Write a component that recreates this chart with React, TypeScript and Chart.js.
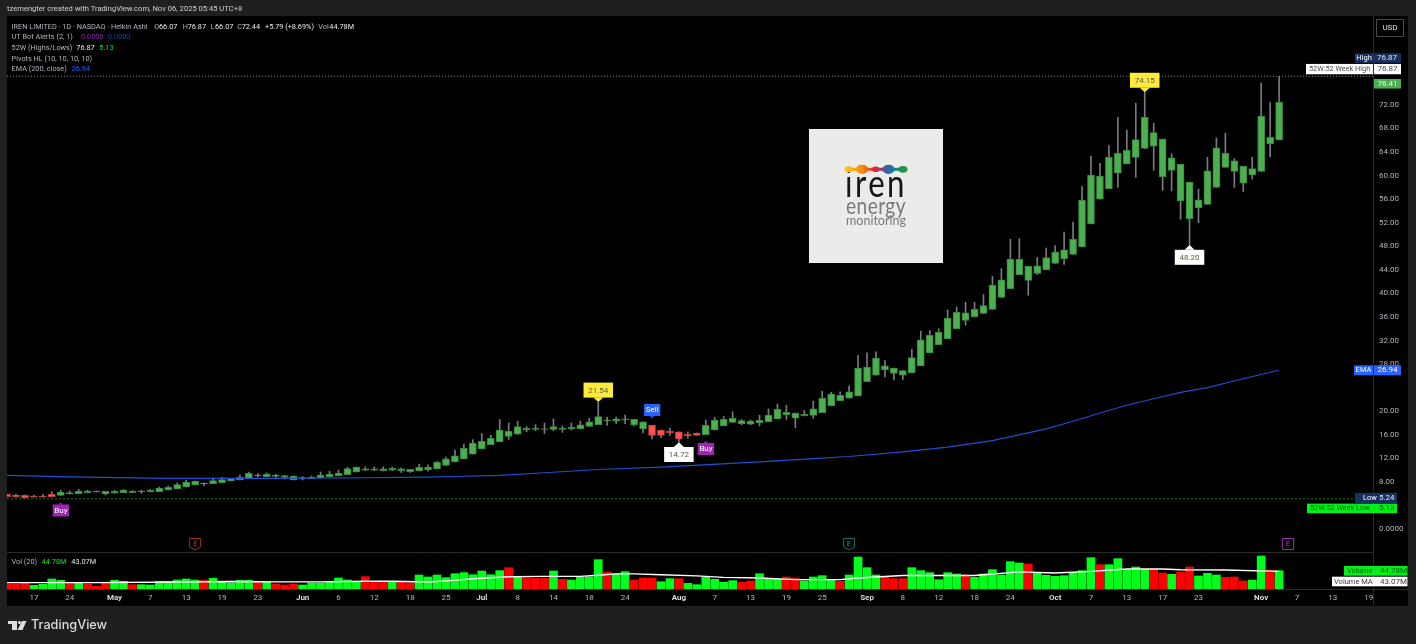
import React, { useEffect, useRef } from "react";
import { Chart, registerables } from "chart.js";

Chart.register(...registerables);

const opens = [
  5.89, 5.77, 5.7, 5.6, 5.6, 5.9, 5.7, 5.94, 6.0, 6.17,
  6.28, 5.94, 6.1, 6.17, 6.17, 6.34, 6.28, 6.34, 6.62, 6.8,
  7.13, 7.47, 7.7, 7.7, 7.87, 8.15, 8.32, 8.54, 9.06, 8.88,
  8.94, 8.77, 8.32, 8.54, 8.54, 8.66, 8.83, 9.06, 9.23, 9.68,
  10.0, 10.0, 9.85, 10.0, 9.9, 9.74, 9.85, 10.05, 10.2, 10.8,
  11.4, 11.9, 12.7, 13.6, 14.3, 14.8, 15.7, 16.1, 16.8, 16.9,
  16.9, 16.9, 16.9, 17.0, 17.0, 17.4, 17.7, 18.4, 18.3, 18.55,
  17.7, 17.0, 17.6, 16.8, 16.6, 16.5, 16.1, 16.3, 16.0, 16.8,
  17.5, 18.1, 17.9, 17.8, 18.05, 18.2, 18.7, 19.4, 18.8, 19.2,
  19.3, 19.75, 20.9, 21.8, 22.2, 22.6, 25.0, 26.1, 27.0, 26.4,
  26.1, 26.5, 27.7, 29.9, 31.3, 32.3, 34.0, 35.4, 36.0, 36.6,
  37.3, 39.3, 40.8, 43.2, 42.2, 43.4, 44.0, 45.1, 45.9, 46.6,
  47.9, 51.8, 56.0, 57.8, 60.4, 62.0, 63.1, 64.6, 65.0, 59.8,
  60.9, 55.7, 52.7, 54.5, 55.1, 58.0, 61.4, 60.7, 58.7, 60.1,
  60.7, 65.4, 66.07,
];
const highs = [
  5.95, 5.9, 5.75, 5.77, 5.9, 6.3, 6.6, 6.45, 6.73, 6.6,
  6.45, 6.4, 6.55, 6.73, 6.5, 6.6, 6.73, 7.13, 7.3, 7.8,
  8.26, 8.15, 7.85, 8.65, 8.77, 8.54, 9.17, 9.68, 9.4, 9.5,
  9.3, 9.06, 9.0, 8.9, 9.0, 9.68, 9.8, 10.0, 10.47, 10.53,
  10.55, 10.55, 10.55, 10.5, 10.35, 10.12, 11.0, 10.9, 11.5, 12.2,
  13.4, 14.4, 15.2, 16.2, 15.9, 18.6, 18.0, 18.3, 17.4, 17.7,
  18.0, 18.7, 17.5, 18.0, 18.3, 18.8, 21.54, 19.0, 19.0, 19.35,
  18.6, 18.2, 17.6, 16.8, 17.1, 16.5, 16.5, 16.3, 18.5, 18.95,
  19.1, 19.9, 18.6, 18.5, 19.3, 20.4, 21.2, 21.0, 19.7, 20.1,
  21.7, 23.4, 23.2, 23.3, 24.3, 29.5, 29.9, 30.1, 28.6, 27.3,
  26.9, 30.5, 33.6, 33.7, 34.0, 37.2, 37.7, 38.5, 38.5, 39.8,
  42.9, 44.2, 49.2, 49.3, 44.6, 46.1, 47.7, 48.1, 50.4, 52.1,
  58.2, 63.3, 62.1, 65.1, 69.9, 67.7, 72.3, 74.15, 68.9, 66.2,
  63.7, 61.9, 58.9, 57.7, 63.1, 66.4, 67.2, 62.9, 61.6, 63.1,
  75.7, 72.4, 76.87,
];
const lows = [
  5.45, 5.4, 5.24, 5.4, 5.4, 5.5, 5.7, 5.94, 6.0, 6.17,
  6.28, 5.77, 6.1, 6.17, 6.17, 6.05, 6.28, 6.34, 6.62, 6.8,
  7.13, 7.47, 7.36, 7.7, 7.87, 8.15, 8.32, 8.54, 8.83, 8.88,
  8.66, 8.48, 8.32, 8.32, 8.54, 8.66, 8.83, 9.06, 9.23, 9.68,
  9.9, 9.9, 9.85, 9.9, 9.6, 9.6, 9.85, 9.8, 10.2, 10.8,
  11.4, 11.9, 12.7, 13.6, 14.3, 14.8, 15.2, 16.1, 16.5, 16.7,
  16.2, 16.7, 16.4, 16.8, 17.0, 17.4, 17.7, 17.6, 17.9, 17.9,
  17.5, 16.3, 15.3, 15.5, 15.9, 14.72, 15.4, 15.9, 16.0, 16.8,
  17.5, 18.1, 17.7, 17.7, 17.5, 18.2, 18.7, 18.6, 17.2, 19.2,
  18.8, 19.75, 20.9, 21.8, 22.2, 22.6, 25.0, 26.1, 25.8, 25.3,
  25.4, 26.5, 27.7, 29.9, 31.3, 32.3, 34.0, 34.6, 36.0, 36.6,
  37.3, 39.3, 40.8, 43.2, 39.7, 43.2, 44.0, 45.1, 44.9, 46.6,
  47.9, 51.8, 56.0, 57.8, 58.0, 62.0, 59.7, 64.6, 60.9, 57.5,
  57.4, 52.6, 48.2, 52.0, 55.1, 58.0, 61.4, 58.0, 57.3, 59.4,
  60.7, 63.2, 66.07,
];
const closes = [
  5.5, 5.5, 5.3, 5.43, 5.43, 5.5, 6.28, 6.17, 6.45, 6.45,
  6.4, 6.4, 6.45, 6.56, 6.45, 6.45, 6.56, 6.96, 7.08, 7.53,
  7.98, 8.15, 7.8, 8.2, 8.37, 8.54, 8.77, 9.45, 9.17, 9.28,
  9.17, 9.06, 9.0, 8.72, 8.83, 9.17, 9.34, 9.5, 10.25, 10.53,
  10.2, 10.2, 10.2, 10.3, 10.2, 10.12, 10.47, 10.5, 11.3, 11.9,
  12.4, 13.7, 14.6, 14.9, 15.4, 16.8, 16.6, 17.4, 17.1, 17.15,
  17.0, 17.4, 17.15, 17.3, 17.7, 18.2, 19.1, 18.5, 18.7, 18.7,
  18.6, 18.2, 15.9, 15.9, 16.3, 15.3, 15.8, 15.9, 17.6, 18.5,
  18.6, 18.8, 18.4, 18.3, 18.45, 19.35, 20.3, 19.8, 19.7, 19.5,
  20.4, 22.2, 22.9, 22.7, 23.3, 27.3, 27.5, 29.0, 27.7, 27.3,
  26.9, 29.1, 32.1, 32.9, 33.4, 35.8, 36.8, 36.7, 37.3, 37.95,
  41.4, 42.3, 45.8, 45.8, 44.6, 44.7, 46.1, 47.0, 47.4, 49.2,
  55.8, 60.1, 59.9, 63.1, 63.8, 64.3, 66.1, 69.9, 67.3, 66.2,
  63.0, 61.9, 58.9, 55.9, 60.8, 64.7, 63.8, 62.5, 61.6, 61.2,
  70.1, 66.5, 72.44,
];
const volumes = [
  12.2, 12.2, 13.9, 9, 11.4, 24.5, 21.2, 13.9, 15.5, 12.2,
  6.5, 13.9, 21.2, 18.8, 10.6, 10.6, 9.8, 18.8, 18.8, 22,
  24.5, 22, 21.2, 26.1, 17.9, 14.7, 21.2, 21.2, 17.1, 17.1,
  12.2, 9.8, 12.2, 9.8, 14.7, 14.7, 17.1, 26.9, 22, 16.3,
  30.2, 17.1, 17.1, 17.1, 18.8, 14.7, 34.3, 29.4, 34.3, 27.7,
  37.5, 40, 35, 44, 35, 44.9, 52.2, 29.4, 26.9, 26.1,
  26.1, 44, 23.7, 22, 28.5, 29.4, 71.8, 41.6, 36.7, 42.4,
  22, 26.9, 26.9, 17.9, 25.3, 25.3, 13.9, 10.6, 28.5, 23.7,
  16.3, 20.4, 16.3, 19.6, 37.5, 26.1, 23.7, 29.4, 26.1, 19.6,
  29.4, 32.6, 22.8, 18.8, 34.3, 78.3, 52.2, 34.3, 30.2, 25.3,
  25.3, 52.2, 44.9, 40, 22.8, 40, 36.7, 34.3, 28.5, 36.7,
  47.3, 34.3, 66.9, 63.6, 61.2, 39.2, 33.4, 31, 32.6, 40.8,
  44.9, 76.7, 59.5, 59.5, 74.2, 47.3, 53.8, 47.3, 48.9, 39.2,
  35.9, 41.6, 53.8, 31.8, 38.3, 34.3, 28.5, 29.4, 19.6, 22,
  80.8, 46.5, 44.78,
];
const redVolumeBars = [
  0, 1, 2, 7, 9, 10, 11, 14, 22, 28, 30, 31, 32, 40, 41, 42, 44, 45, 56, 58, 59, 60, 62, 67,
  70, 71, 72, 75, 82, 83, 87, 88, 93, 98, 99, 100, 107, 114, 122, 128, 129, 131, 132, 136, 137, 138, 141,
];
const emaIndex = [0, 7, 18, 30, 40, 47, 50, 55, 60, 66, 73, 84, 90, 94, 100, 105, 110, 116, 119, 122, 125, 128, 131, 134, 138, 142];
const emaValues = [9.1, 8.85, 8.6, 8.6, 8.7, 8.8, 8.9, 9.1, 9.55, 10.1, 10.5, 11.4, 11.95, 12.3, 13.1, 13.9, 15, 17, 18.3, 19.7, 21, 22.1, 23.2, 24, 25.5, 26.94];
const volMaIndex = [0, 10, 20, 25, 30, 35, 40, 43, 47, 50, 52, 56, 60, 64, 66, 68, 70, 73, 77, 80, 84, 88, 93, 95, 100, 108, 113, 117, 121, 125, 129, 131, 136, 142];
const volMaValues = [15.5, 15.5, 17, 18.5, 17.5, 17.5, 18.8, 19, 17, 21, 25, 30, 31, 31, 33.5, 37, 37, 35, 32, 28.5, 27, 23, 23, 27, 33, 33, 42, 39, 43, 49, 49, 47, 46.5, 43.07];
const xTickIndex = [3, 7, 12, 16, 20, 24, 28, 33, 37, 41, 45, 49, 53, 57, 61, 65, 69, 75, 79, 83, 87, 91, 96, 100, 104, 108, 112, 117, 121, 125, 129, 133, 140, 144, 148, 152];
const xTickLabels = ["17", "24", "May", "7", "13", "19", "23", "Jun", "6", "12", "18", "25", "Jul", "8", "14", "18", "24", "Aug", "7", "13", "19", "25", "Sep", "8", "12", "18", "24", "Oct", "7", "13", "17", "23", "Nov", "7", "13", "19"];
const yTickValues = [0, 8, 12, 16, 20, 28, 32, 36, 40, 44, 48, 52, 56, 60, 64, 68, 72];
const week52High = 76.87;
const week52Low = 5.13;
const lastClose = 76.41;
const periodHigh = 76.87;
const periodLow = 5.24;
const emaLast = 26.94;
const pivotIndex = [127, 132, 66, 75];
const pivotValues = [74.15, 48.2, 21.54, 14.72];
const pivotIsHigh = [true, false, true, false];
const signalIndex = [72, 78, 6];
const signalPrice = [18.85, 14.94, 4.5];
const signalText = ["Sell", "Buy", "Buy"];
const earningsIndex = [21, 94, 143];
const earningsColor = ["#a12a2a", "#1f6f68", "#9c27b0"];
const earningsText = ["#d33a3a", "#2a9d90", "#b43ad0"];

const X_MAX = 152.48;
const Y_MAX = 87.1;
const Y_MIN = -10.19;
const VOL_MAX = 1402;
const FONT = "Roboto, 'Noto Sans', sans-serif";
const LEGEND = `7.3px ${FONT}`;
const TAG_GREEN = "#00f01a";
const indices = opens.map((_, i) => i);
const isMonthTick = (value: any) => /[A-Za-z]/.test(xTickLabels[xTickIndex.indexOf(value)] ?? "");

function text(ctx: CanvasRenderingContext2D, s: string, x: number, y: number, color: string, font = LEGEND, align: CanvasTextAlign = "left", maxWidth?: number) {
  ctx.font = font;
  ctx.fillStyle = color;
  ctx.textAlign = align;
  ctx.textBaseline = "middle";
  if (maxWidth) ctx.fillText(s, x, y, maxWidth);
  else ctx.fillText(s, x, y);
}
function box(ctx: CanvasRenderingContext2D, x0: number, y0: number, x1: number, y1: number, color: string) {
  ctx.fillStyle = color;
  ctx.fillRect(x0, y0, x1 - x0, y1 - y0);
}

const backgroundPlugin = {
  id: "panelBackground",
  beforeDraw(chart: any) {
    const ctx = chart.ctx as CanvasRenderingContext2D;
    box(ctx, 0, 0, 1416, 644, "#1f1f1f");
    box(ctx, 7, 16, 1408, 606, "#000000");
  },
};

function logoWord(ctx: CanvasRenderingContext2D, s: string, baseline: number, color: string, font: string, spacing: string, maxWidth: number) {
  ctx.font = font;
  ctx.fillStyle = color;
  ctx.textAlign = "center";
  ctx.textBaseline = "alphabetic";
  (ctx as any).letterSpacing = spacing;
  ctx.fillText(s, 876, baseline, maxWidth);
  (ctx as any).letterSpacing = "0px";
}

function drawLogo(ctx: CanvasRenderingContext2D) {
  box(ctx, 809, 129, 943, 263, "#ebebe9");
  logoWord(ctx, "iren", 197, "#161616", `400 38px Lato, ${FONT}`, "3px", 62);
  logoWord(ctx, "energy", 214, "#7a7a78", `400 23px Lato, ${FONT}`, "0.5px", 60);
  logoWord(ctx, "monitoring", 225.3, "#7a7a78", `400 14px Lato, ${FONT}`, "0px", 60);
  const y = 169.3;
  const g = ctx.createLinearGradient(846, 0, 906, 0);
  g.addColorStop(0, "#fbc312");
  g.addColorStop(0.28, "#f08a10");
  g.addColorStop(0.48, "#e5202e");
  g.addColorStop(0.72, "#1f6db0");
  g.addColorStop(1, "#1fa040");
  ctx.fillStyle = g;
  ctx.fillRect(846, y - 1.5, 60, 3);
  const blobs: [number, number][] = [[848.5, 3], [862, 4.6], [875.7, 2.8], [888.5, 4.6], [903, 3.4]];
  blobs.forEach(([cx, r]) => {
    ctx.beginPath();
    ctx.ellipse(cx, y, r * 1.35, r, 0, 0, Math.PI * 2);
    ctx.fill();
  });
}

function drawPivot(ctx: CanvasRenderingContext2D, cx: number, tip: number, value: number, high: boolean) {
  const w = 29.5;
  const fill = high ? "#ffeb3b" : "#ffffff";
  const bodyY0 = high ? tip - 19.5 : tip + 4.7;
  const bodyY1 = bodyY0 + 15;
  ctx.fillStyle = fill;
  ctx.fillRect(cx - w / 2, bodyY0, w, 15);
  ctx.beginPath();
  if (high) {
    ctx.moveTo(cx - 5, bodyY1);
    ctx.lineTo(cx + 5, bodyY1);
  } else {
    ctx.moveTo(cx - 5, bodyY0);
    ctx.lineTo(cx + 5, bodyY0);
  }
  ctx.lineTo(cx, tip);
  ctx.closePath();
  ctx.fill();
  text(ctx, value.toFixed(2), cx, (bodyY0 + bodyY1) / 2 + 0.5, "#5a5a40", `8px ${FONT}`, "center");
}

const overlayPlugin = {
  id: "overlay",
  afterDatasetsDraw(chart: any) {
    const ctx = chart.ctx as CanvasRenderingContext2D;
    const xs = chart.scales.x;
    const ys = chart.scales.y;
    const area = chart.chartArea;
    ctx.save();

    // pane separators
    ctx.strokeStyle = "#2a2a2a";
    ctx.lineWidth = 1;
    ctx.beginPath();
    ctx.moveTo(area.left, 552.5);
    ctx.lineTo(area.right, 552.5);
    ctx.moveTo(area.left, area.bottom + 0.5);
    ctx.lineTo(1408, area.bottom + 0.5);
    ctx.moveTo(area.right + 0.5, 16);
    ctx.lineTo(area.right + 0.5, 606);
    ctx.stroke();

    drawLogo(ctx);

    // pivots
    pivotIndex.forEach((idx, k) => {
      drawPivot(ctx, xs.getPixelForValue(idx), ys.getPixelForValue(pivotValues[k]), pivotValues[k], pivotIsHigh[k]);
    });

    // signals
    signalIndex.forEach((idx, k) => {
      const cx = xs.getPixelForValue(idx);
      const tip = ys.getPixelForValue(signalPrice[k]);
      const sell = signalText[k] === "Sell";
      const color = sell ? "#2962ff" : "#9c27b0";
      const y0 = sell ? tip - 14 : tip + 2;
      ctx.fillStyle = color;
      ctx.fillRect(cx - 8, y0, 16.3, 12);
      ctx.beginPath();
      if (sell) {
        ctx.moveTo(cx - 2, y0 + 12);
        ctx.lineTo(cx + 2, y0 + 12);
      } else {
        ctx.moveTo(cx - 2, y0);
        ctx.lineTo(cx + 2, y0);
      }
      ctx.lineTo(cx, tip);
      ctx.closePath();
      ctx.fill();
      text(ctx, signalText[k], cx + 0.2, y0 + 6.3, "#ffffff", `8px ${FONT}`, "center");
    });

    // earnings markers
    earningsIndex.forEach((idx, k) => {
      const cx = xs.getPixelForValue(idx);
      ctx.strokeStyle = earningsColor[k];
      ctx.lineWidth = 1;
      ctx.beginPath();
      if (k === 2) {
        ctx.rect(cx - 5.5, 538.5, 11, 11);
      } else {
        ctx.moveTo(cx - 5.5, 538.5);
        ctx.lineTo(cx + 5.5, 538.5);
        ctx.lineTo(cx + 5.5, 547);
        ctx.lineTo(cx, 550);
        ctx.lineTo(cx - 5.5, 547);
        ctx.closePath();
      }
      ctx.stroke();
      text(ctx, "E", cx, 544, earningsText[k], `7px ${FONT}`, "center");
    });

    // price-scale tags
    const pv = (v: number) => ys.getPixelForValue(v);
    const hiY = pv(periodHigh);
    box(ctx, 1355, hiY - 23, 1373, hiY - 13.5, "#16305f");
    text(ctx, "High", 1364, hiY - 18, "#ffffff", `7.5px ${FONT}`, "center");
    box(ctx, 1373, hiY - 23, 1401, hiY - 13.5, "#16305f");
    text(ctx, periodHigh.toFixed(2), 1387, hiY - 18, "#dfe4ef", `8px ${FONT}`, "center");
    box(ctx, 1306, hiY - 12.3, 1373, hiY - 2, "#ffffff");
    text(ctx, "52W:52 Week High", 1309, hiY - 7, "#4a4a4a", `7.3px ${FONT}`);
    box(ctx, 1374, hiY - 12.3, 1401, hiY - 2, "#ffffff");
    text(ctx, week52High.toFixed(2), 1387.5, hiY - 7, "#4a4a4a", `8px ${FONT}`, "center");
    const lastY = pv(lastClose);
    box(ctx, 1374, lastY + 0, 1401, lastY + 9.6, "#4caf50");
    text(ctx, lastClose.toFixed(2), 1387.5, lastY + 5, "#eaf6ea", `8px ${FONT}`, "center");

    const emaY = pv(emaLast);
    box(ctx, 1354, emaY - 5, 1373, emaY + 5, "#2962ff");
    text(ctx, "EMA", 1363.5, emaY, "#ffffff", `7.5px ${FONT}`, "center");
    box(ctx, 1374, emaY - 5, 1401, emaY + 5, "#2962ff");
    text(ctx, emaLast.toFixed(2), 1387.5, emaY, "#ffffff", `8px ${FONT}`, "center");

    const lowY = pv(periodLow);
    box(ctx, 1355, lowY - 5.2, 1397, lowY + 4.8, "#16305f");
    text(ctx, "Low", 1363, lowY, "#ffffff", `7.5px ${FONT}`);
    text(ctx, periodLow.toFixed(2), 1379, lowY, "#dfe4ef", `8px ${FONT}`);
    box(ctx, 1307, lowY + 5.5, 1397, lowY + 15, TAG_GREEN);
    text(ctx, "52W:52 Week Low", 1310, lowY + 10.3, "#0a5a10", `7.3px ${FONT}`);
    text(ctx, week52Low.toFixed(2), 1379, lowY + 10.3, "#0a5a10", `8px ${FONT}`);

    // volume tags
    const volLast = volumes[volumes.length - 1];
    box(ctx, 1344, 566, 1407.5, 575.7, TAG_GREEN);
    text(ctx, "Volume", 1347, 571, "#0a5a10", `7.5px ${FONT}`);
    text(ctx, `${volLast.toFixed(2)}M`, 1380, 571, "#0a5a10", `8px ${FONT}`);
    box(ctx, 1332, 576.7, 1407.5, 586.3, "#ffffff");
    text(ctx, "Volume MA", 1334, 581.7, "#3a3a3a", `7.5px ${FONT}`);
    text(ctx, `${volMaValues[volMaValues.length - 1].toFixed(2)}M`, 1380, 581.7, "#3a3a3a", `8px ${FONT}`);

    // currency button
    ctx.strokeStyle = "#4a4a4a";
    ctx.strokeRect(1376.5, 19.5, 27, 17);
    text(ctx, "USD", 1390, 28, "#e0e0e0", `8px ${FONT}`, "center");

    // header and legend
    const gray = "#b2b5be";
    const white = "#e8e8e8";
    text(ctx, "tzemengter created with TradingView.com, Nov 06, 2025 05:45 UTC+8", 7, 9.5, "#cfcfcf", `7.6px ${FONT}`);
    text(ctx, "IREN LIMITED · 1D · NASDAQ · Heikin Ashi", 11.6, 27, gray);
    text(ctx, "O", 154.3, 27, gray);
    text(ctx, opens[opens.length - 1].toFixed(2), 159, 27, white);
    text(ctx, "H", 182.7, 27, gray);
    text(ctx, highs[highs.length - 1].toFixed(2), 187.7, 27, white);
    text(ctx, "L", 210.7, 27, gray);
    text(ctx, lows[lows.length - 1].toFixed(2), 215, 27, white);
    text(ctx, "C", 237.3, 27, gray);
    text(ctx, closes[closes.length - 1].toFixed(2), 241.7, 27, white);
    text(ctx, "+5.79 (+8.69%)", 265, 27, white);
    text(ctx, "Vol", 318.3, 27, gray);
    text(ctx, `${volLast.toFixed(2)}M`, 329.3, 27, white);
    text(ctx, "UT Bot Alerts (2, 1)", 11.6, 37.3, gray);
    text(ctx, "0.0000", 81, 37.3, "#8e24aa");
    text(ctx, "0.0000", 108, 37.3, "#1f3fa8");
    text(ctx, "52W (Highs/Lows)", 11.6, 48, gray);
    text(ctx, week52High.toFixed(2), 76.3, 48, white);
    text(ctx, week52Low.toFixed(2), 99.3, 48, TAG_GREEN);
    text(ctx, "Pivots HL (10, 10, 10, 10)", 11.6, 58.7, gray);
    text(ctx, "EMA (200, close)", 11.6, 69, gray);
    text(ctx, emaLast.toFixed(2), 71.7, 69, "#2962ff");
    text(ctx, "Vol (20)", 11.6, 562.3, gray);
    text(ctx, `${volLast.toFixed(2)}M`, 41.7, 562.3, TAG_GREEN);
    text(ctx, `${volMaValues[volMaValues.length - 1].toFixed(2)}M`, 71.3, 562.3, white);

    // footer logo
    ctx.fillStyle = "#dcdcdc";
    ctx.fillRect(8, 621, 9, 3);
    ctx.fillRect(12, 621, 5, 9);
    ctx.beginPath();
    ctx.arc(19.5, 622.5, 1.6, 0, Math.PI * 2);
    ctx.fill();
    ctx.beginPath();
    ctx.moveTo(22, 621);
    ctx.lineTo(26.5, 621);
    ctx.lineTo(22.5, 630);
    ctx.lineTo(17.5, 630);
    ctx.closePath();
    ctx.fill();
    text(ctx, "TradingView", 31, 625.5, "#dcdcdc", `500 12.7px Inter, ${FONT}`);

    ctx.restore();
  },
};

export default function App() {
  const ref = useRef<HTMLCanvasElement | null>(null);

  useEffect(() => {
    if (!ref.current) return;
    const isRed = (i: number) => closes[i] < opens[i];
    const chart = new Chart(ref.current, {
      type: "bar",
      data: {
        datasets: [
          {
            type: "bar",
            label: "Volume",
            yAxisID: "yVol",
            data: indices.map((i) => ({ x: i, y: volumes[i] })),
            backgroundColor: indices.map((i) => (redVolumeBars.includes(i) ? "#ff0000" : "#00ff1a")),
            barThickness: 8,
            grouped: false,
            order: 5,
          },
          {
            type: "line",
            label: "Volume MA",
            yAxisID: "yVol",
            data: volMaIndex.map((x, k) => ({ x, y: volMaValues[k] })),
            borderColor: "#ffffff",
            borderWidth: 1.4,
            pointRadius: 0,
            order: 4,
          },
          {
            type: "line",
            label: "52W High",
            yAxisID: "y",
            data: [{ x: 0, y: week52High }, { x: X_MAX, y: week52High }],
            borderColor: "#8a8a8a",
            borderWidth: 1,
            borderDash: [1, 2],
            pointRadius: 0,
            order: 6,
          },
          {
            type: "line",
            label: "52W Low",
            yAxisID: "y",
            data: [{ x: 0, y: week52Low }, { x: X_MAX, y: week52Low }],
            borderColor: "#0a7a14",
            borderWidth: 1,
            borderDash: [2, 2],
            pointRadius: 0,
            order: 6,
          },
          {
            type: "bar",
            label: "Wicks",
            yAxisID: "y",
            data: indices.map((i) => ({ x: i, y: [lows[i], highs[i]] })),
            backgroundColor: "#787b86",
            barThickness: 1,
            grouped: false,
            order: 3,
          },
          {
            type: "bar",
            label: "Bodies",
            yAxisID: "y",
            data: indices.map((i) => ({ x: i, y: [opens[i], closes[i]] })),
            backgroundColor: indices.map((i) => (isRed(i) ? "#ff5252" : "#4caf50")),
            borderColor: indices.map((i) => (isRed(i) ? "#c24040" : "#3a8a3e")),
            borderWidth: 1,
            borderSkipped: false,
            barThickness: 7,
            grouped: false,
            order: 2,
          },
          {
            type: "line",
            label: "EMA",
            yAxisID: "y",
            data: emaIndex.map((x, k) => ({ x, y: emaValues[k] })),
            borderColor: "#1f4fd0",
            borderWidth: 1.1,
            pointRadius: 0,
            order: 1,
          },
        ] as any,
      },
      options: {
        responsive: false,
        animation: false,
        events: [],
        layout: { padding: { left: 7, top: 16, right: 8, bottom: 38 } },
        plugins: { legend: { display: false }, tooltip: { enabled: false } },
        scales: {
          x: {
            type: "linear",
            min: 0,
            max: X_MAX,
            offset: false,
            grid: { display: false, drawTicks: false },
            border: { display: false },
            afterBuildTicks: (s: any) => {
              s.ticks = xTickIndex.map((value) => ({ value }));
            },
            afterFit: (s: any) => {
              s.height = 17;
            },
            ticks: {
              autoSkip: false,
              maxRotation: 0,
              padding: 4,
              callback: (v: any) => xTickLabels[xTickIndex.indexOf(Number(v))] ?? "",
              color: (c: any) => (isMonthTick(c.tick?.value) ? "#d8dae0" : "#b2b5be"),
              font: (c: any) => ({
                family: FONT,
                size: 8,
                weight: isMonthTick(c.tick?.value) ? "bold" : "normal",
              }),
            },
          },
          y: {
            position: "right",
            min: Y_MIN,
            max: Y_MAX,
            grid: { display: false, drawTicks: false },
            border: { display: false },
            afterBuildTicks: (s: any) => {
              s.ticks = yTickValues.map((value) => ({ value }));
            },
            afterFit: (s: any) => {
              s.width = 35;
            },
            ticks: {
              autoSkip: false,
              padding: 6,
              color: "#b2b5be",
              font: { family: FONT, size: 8 },
              callback: (v: any) => (Number(v) === 0 ? "0.0000" : Number(v).toFixed(2)),
            },
          },
          yVol: { display: false, position: "left", min: 0, max: VOL_MAX },
        },
      } as any,
      plugins: [backgroundPlugin, overlayPlugin] as any,
    });
    return () => chart.destroy();
  }, []);

  return (
    <div style={{ position: "absolute", left: 0, top: 0, width: 1416, height: 644, overflow: "hidden" }}>
      <canvas ref={ref} width={1416} height={644} style={{ display: "block" }} />
    </div>
  );
}
